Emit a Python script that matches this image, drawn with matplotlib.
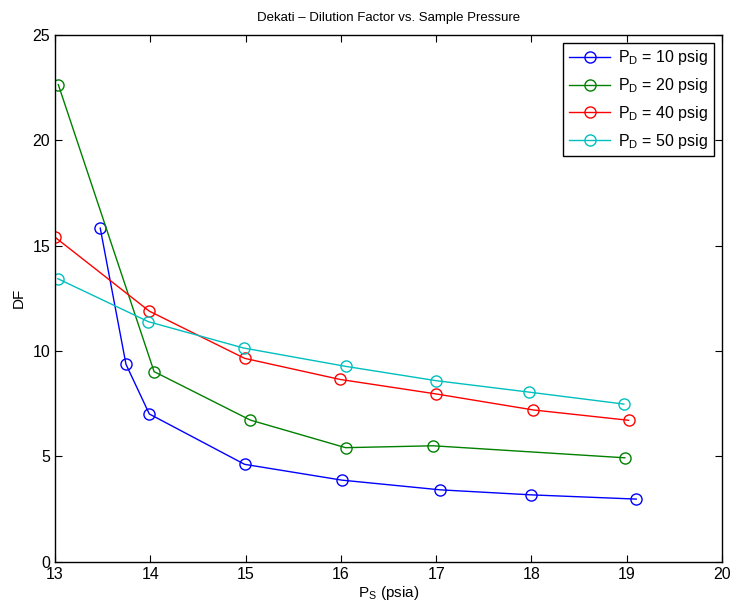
import matplotlib.pyplot as plt

plt.rcParams['font.family'] = ['Liberation Sans', 'DejaVu Sans']

# sample pressure (psia) and dilution factor for each dilution pressure
ps_10 = [13.475, 13.745, 13.99, 14.99, 16.01, 17.04, 18.0, 19.10]
df_10 = [15.83, 9.37, 7.01, 4.62, 3.87, 3.41, 3.17, 2.97]

ps_20 = [13.035, 14.04, 15.05, 16.05, 16.97, 18.98]
df_20 = [22.64, 9.02, 6.72, 5.41, 5.50, 4.93]

ps_40 = [13.0, 13.99, 14.99, 15.99, 17.0, 18.02, 19.02]
df_40 = [15.40, 11.89, 9.65, 8.65, 7.96, 7.20, 6.71]

ps_50 = [13.03, 13.98, 14.98, 16.05, 17.0, 17.97, 18.97]
df_50 = [13.43, 11.39, 10.14, 9.27, 8.59, 8.05, 7.48]

labels = [r'P$_\mathregular{D}$ = 10 psig', r'P$_\mathregular{D}$ = 20 psig',
          r'P$_\mathregular{D}$ = 40 psig', r'P$_\mathregular{D}$ = 50 psig']
colors = ['#0000ff', '#008000', '#ff0000', '#00bfbf']

fig = plt.figure(figsize=(7.33, 6.02), dpi=100)
ax = fig.add_axes([0.075, 0.067, 0.91, 0.875])

series = [(ps_10, df_10), (ps_20, df_20), (ps_40, df_40), (ps_50, df_50)]
for (x, y), lab, c in zip(series, labels, colors):
    ax.plot(x, y, '-o', color=c, mfc='none', mec=c, ms=8, lw=1, mew=1, label=lab)

ax.set_xlim(13, 20)
ax.set_ylim(0, 25)
ax.set_xticks(range(13, 21))
ax.set_yticks([0, 5, 10, 15, 20, 25])
ax.tick_params(direction='in', top=True, right=True, labelsize=11.5, length=5)
ax.tick_params(axis='x', pad=4)
for s in ax.spines.values():
    s.set_linewidth(1)

ax.set_title('Dekati \u2013 Dilution Factor vs. Sample Pressure', fontsize=9.5, pad=10)
ax.set_xlabel(r'P$_\mathregular{S}$ (psia)', fontsize=11, labelpad=1)
ax.set_ylabel('DF', fontsize=11, labelpad=5)

leg = ax.legend(loc='upper right', fontsize=11.5, fancybox=False, framealpha=1,
                edgecolor='black', borderaxespad=0.5, handlelength=2.6,
                labelspacing=0.55, borderpad=0.35, handletextpad=0.5)
leg.get_frame().set_linewidth(1)

fig.savefig('out.png', dpi=100)
